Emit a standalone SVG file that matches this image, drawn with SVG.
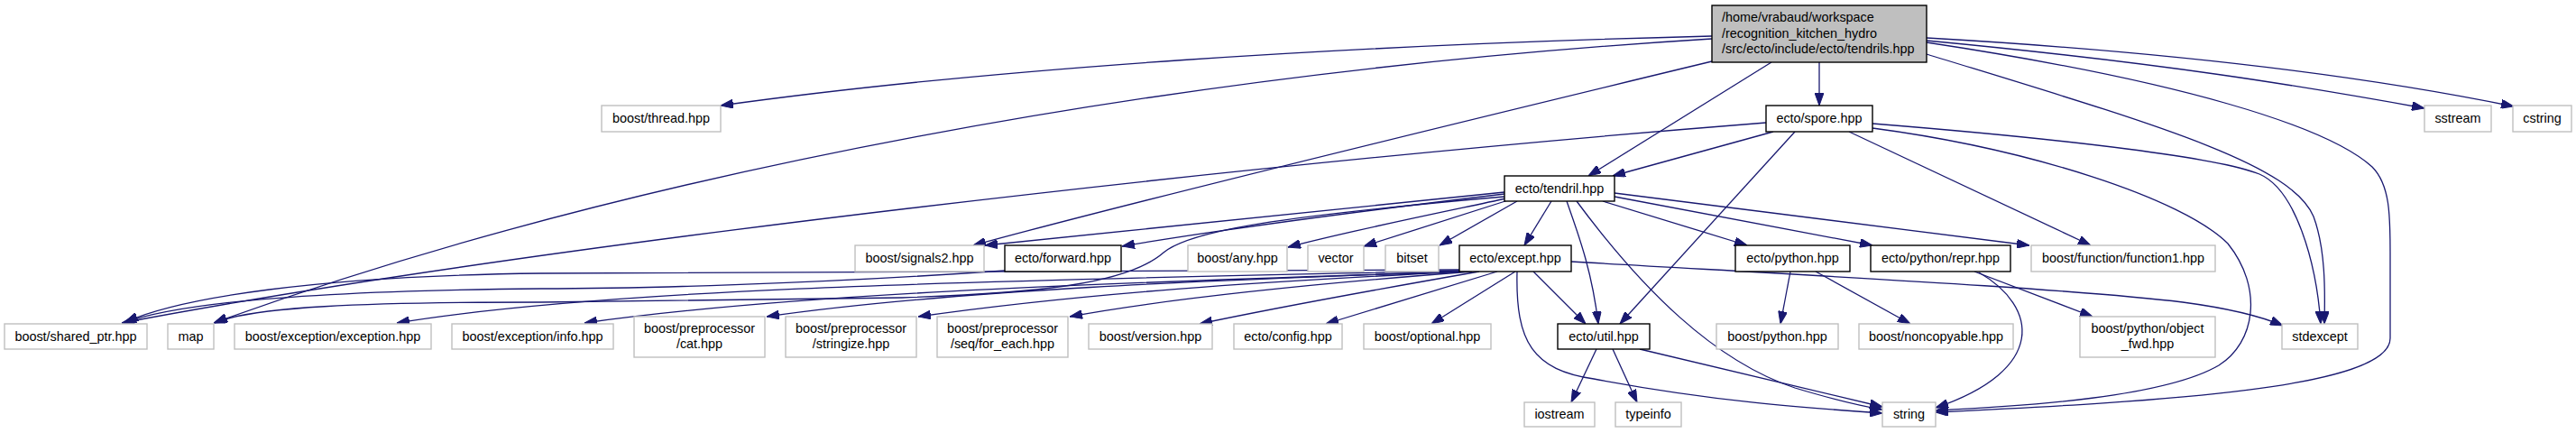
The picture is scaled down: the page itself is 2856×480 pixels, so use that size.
<svg xmlns="http://www.w3.org/2000/svg" width="2856" height="480" viewBox="0 0 2856 480">
<style>
text{font-family:"Liberation Sans",Arial,sans-serif;font-size:14.4px;fill:#000;text-anchor:middle}
.ext{fill:#fff;stroke:#bfbfbf;stroke-width:1.4}
.doc{fill:#fff;stroke:#000;stroke-width:1.4}
.main{fill:#bfbfbf;stroke:#000;stroke-width:1.4}
#edges path{fill:none;stroke:#191970;stroke-width:1.3;marker-end:url(#arr)}
</style>
<defs>
<marker id="arr" markerWidth="14" markerHeight="10" refX="14" refY="5" orient="auto" markerUnits="userSpaceOnUse"><path d="M0,0 L14,5 L0,10 z" fill="#191970" stroke="#191970" stroke-width="1"/></marker>
</defs>
<rect width="2856" height="480" fill="#fff"/>
<g id="edges">
<path d="M1898,40 C1500,50 1100,75 799,117"/>
<path d="M1898,43 C1300,80 700,190 237,358"/>
<path d="M1898,68 C1600,140 1250,225 1079,272"/>
<path d="M1964,69 L1761,195"/>
<path d="M2017,69 L2017,117"/>
<path d="M2136,45 C2400,70 2550,95 2688,120"/>
<path d="M2136,42 C2450,60 2650,90 2787,118"/>
<path d="M2136,60 C2380,135 2540,180 2565,240 C2578,275 2578,320 2577,359"/>
<path d="M2136,47 C2420,90 2580,140 2630,185 C2650,205 2650,240 2650,280 L2650,375 C2650,430 2400,445 2146,457"/>
<path d="M1958,136 C1400,180 600,270 135,358"/>
<path d="M1966,146 L1788,195"/>
<path d="M1990,146 L1796,359"/>
<path d="M2050,146 L2318,272"/>
<path d="M2076,142 C2250,165 2420,220 2470,270 C2510,320 2500,380 2460,405 C2400,440 2250,450 2146,455"/>
<path d="M2076,137 C2300,155 2460,175 2505,193 C2545,210 2568,290 2573,359"/>
<path d="M1668,213 C1450,235 1250,255 1092,272"/>
<path d="M1668,215 C1500,235 1350,255 1244,273"/>
<path d="M1668,218 C1420,240 1320,255 1290,280 C1250,315 1150,325 1000,330 L600,335 C400,335 280,340 238,358"/>
<path d="M1670,220 C1600,235 1500,255 1428,274"/>
<path d="M1672,222 L1512,273"/>
<path d="M1682,223 L1596,272"/>
<path d="M1720,223 L1690,272"/>
<path d="M1737,223 C1750,260 1765,300 1772,359"/>
<path d="M1748,223 C1820,320 1900,400 1990,430 Q2050,448 2087,454"/>
<path d="M1777,223 L1937,272"/>
<path d="M1790,218 L2076,272"/>
<path d="M1790,214 L2250,272"/>
<path d="M1114,300 C900,315 700,320 600,320 C350,322 200,335 137,358"/>
<path d="M1618,299 C1300,302 900,300 600,303 C350,306 200,330 139,357"/>
<path d="M1618,300 C1200,310 700,315 440,358"/>
<path d="M1620,301 C1300,312 900,322 648,358"/>
<path d="M1622,301 C1350,310 1050,322 850,351"/>
<path d="M1626,301 C1400,312 1200,325 1018,351"/>
<path d="M1632,301 C1450,315 1300,330 1186,351"/>
<path d="M1640,301 C1520,322 1420,340 1330,359"/>
<path d="M1660,301 L1470,359"/>
<path d="M1680,301 L1587,359"/>
<path d="M1700,301 L1758,359"/>
<path d="M1682,301 C1680,380 1700,410 1767,420 C1900,445 2000,452 2087,458"/>
<path d="M1742,290 C2000,305 2300,320 2420,335 C2480,343 2510,352 2531,361"/>
<path d="M1985,301 L1974,359"/>
<path d="M2013,301 L2118,359"/>
<path d="M2189,301 L2320,351"/>
<path d="M2194,302 C2260,340 2270,410 2146,452"/>
<path d="M1770,387 L1742,446"/>
<path d="M1788,387 L1815,446"/>
<path d="M1818,387 L2087,451"/>
</g>
<g id="node_main"><rect class="main" x="1898" y="6" width="238" height="63"/><text x="1909" y="24" style="text-anchor:start">/home/vrabaud/workspace</text><text x="1909" y="41.5" style="text-anchor:start">/recognition_kitchen_hydro</text><text x="1909" y="59" style="text-anchor:start">/src/ecto/include/ecto/tendrils.hpp</text></g>
<g id="node_spore"><rect class="doc" x="1958" y="117" width="118" height="29"/><text x="2017" y="136">ecto/spore.hpp</text></g>
<g id="node_thread"><rect class="ext" x="667" y="117" width="132" height="29"/><text x="733" y="136">boost/thread.hpp</text></g>
<g id="node_sstream"><rect class="ext" x="2688" y="117" width="74" height="29"/><text x="2725" y="136">sstream</text></g>
<g id="node_cstring"><rect class="ext" x="2786" y="117" width="65" height="29"/><text x="2818.5" y="136">cstring</text></g>
<g id="node_tendril"><rect class="doc" x="1668" y="195" width="122" height="28"/><text x="1729" y="214">ecto/tendril.hpp</text></g>
<g id="node_signals2"><rect class="ext" x="948" y="272" width="143" height="29"/><text x="1019.5" y="291">boost/signals2.hpp</text></g>
<g id="node_forward"><rect class="doc" x="1114" y="272" width="129" height="29"/><text x="1178.5" y="291">ecto/forward.hpp</text></g>
<g id="node_any"><rect class="ext" x="1317" y="272" width="110" height="29"/><text x="1372" y="291">boost/any.hpp</text></g>
<g id="node_vector"><rect class="ext" x="1450" y="272" width="62" height="29"/><text x="1481" y="291">vector</text></g>
<g id="node_bitset"><rect class="ext" x="1536" y="272" width="59" height="29"/><text x="1565.5" y="291">bitset</text></g>
<g id="node_except"><rect class="doc" x="1618" y="272" width="124" height="29"/><text x="1680" y="291">ecto/except.hpp</text></g>
<g id="node_python"><rect class="doc" x="1924" y="272" width="127" height="29"/><text x="1987.5" y="291">ecto/python.hpp</text></g>
<g id="node_repr"><rect class="doc" x="2074" y="272" width="155" height="29"/><text x="2151.5" y="291">ecto/python/repr.hpp</text></g>
<g id="node_function1"><rect class="ext" x="2252" y="272" width="204" height="29"/><text x="2354" y="291">boost/function/function1.hpp</text></g>
<g id="node_shared_ptr"><rect class="ext" x="5" y="359" width="158" height="28"/><text x="84" y="378">boost/shared_ptr.hpp</text></g>
<g id="node_map"><rect class="ext" x="186" y="359" width="51" height="28"/><text x="211.5" y="378">map</text></g>
<g id="node_exception"><rect class="ext" x="260" y="359" width="218" height="28"/><text x="369" y="378">boost/exception/exception.hpp</text></g>
<g id="node_info"><rect class="ext" x="501" y="359" width="179" height="28"/><text x="590.5" y="378">boost/exception/info.hpp</text></g>
<g id="node_cat"><rect class="ext" x="703" y="351" width="145" height="45"/><text x="775.5" y="369">boost/preprocessor</text><text x="775.5" y="386">/cat.hpp</text></g>
<g id="node_stringize"><rect class="ext" x="871" y="351" width="145" height="45"/><text x="943.5" y="369">boost/preprocessor</text><text x="943.5" y="386">/stringize.hpp</text></g>
<g id="node_for_each"><rect class="ext" x="1039" y="351" width="145" height="45"/><text x="1111.5" y="369">boost/preprocessor</text><text x="1111.5" y="386">/seq/for_each.hpp</text></g>
<g id="node_version"><rect class="ext" x="1207" y="359" width="137" height="28"/><text x="1275.5" y="378">boost/version.hpp</text></g>
<g id="node_config"><rect class="ext" x="1368" y="359" width="120" height="28"/><text x="1428" y="378">ecto/config.hpp</text></g>
<g id="node_optional"><rect class="ext" x="1512" y="359" width="141" height="28"/><text x="1582.5" y="378">boost/optional.hpp</text></g>
<g id="node_util"><rect class="doc" x="1727" y="359" width="102" height="28"/><text x="1778" y="378">ecto/util.hpp</text></g>
<g id="node_bpython"><rect class="ext" x="1903" y="359" width="135" height="28"/><text x="1970.5" y="378">boost/python.hpp</text></g>
<g id="node_noncopyable"><rect class="ext" x="2061" y="359" width="171" height="28"/><text x="2146.5" y="378">boost/noncopyable.hpp</text></g>
<g id="node_object_fwd"><rect class="ext" x="2306" y="351" width="150" height="45"/><text x="2381" y="369">boost/python/object</text><text x="2381" y="386">_fwd.hpp</text></g>
<g id="node_stdexcept"><rect class="ext" x="2530" y="359" width="84" height="28"/><text x="2572" y="378">stdexcept</text></g>
<g id="node_iostream"><rect class="ext" x="1690" y="446" width="78" height="27"/><text x="1729" y="464">iostream</text></g>
<g id="node_typeinfo"><rect class="ext" x="1791" y="446" width="73" height="27"/><text x="1827.5" y="464">typeinfo</text></g>
<g id="node_string"><rect class="ext" x="2087" y="446" width="59" height="27"/><text x="2116.5" y="464">string</text></g>
</svg>
